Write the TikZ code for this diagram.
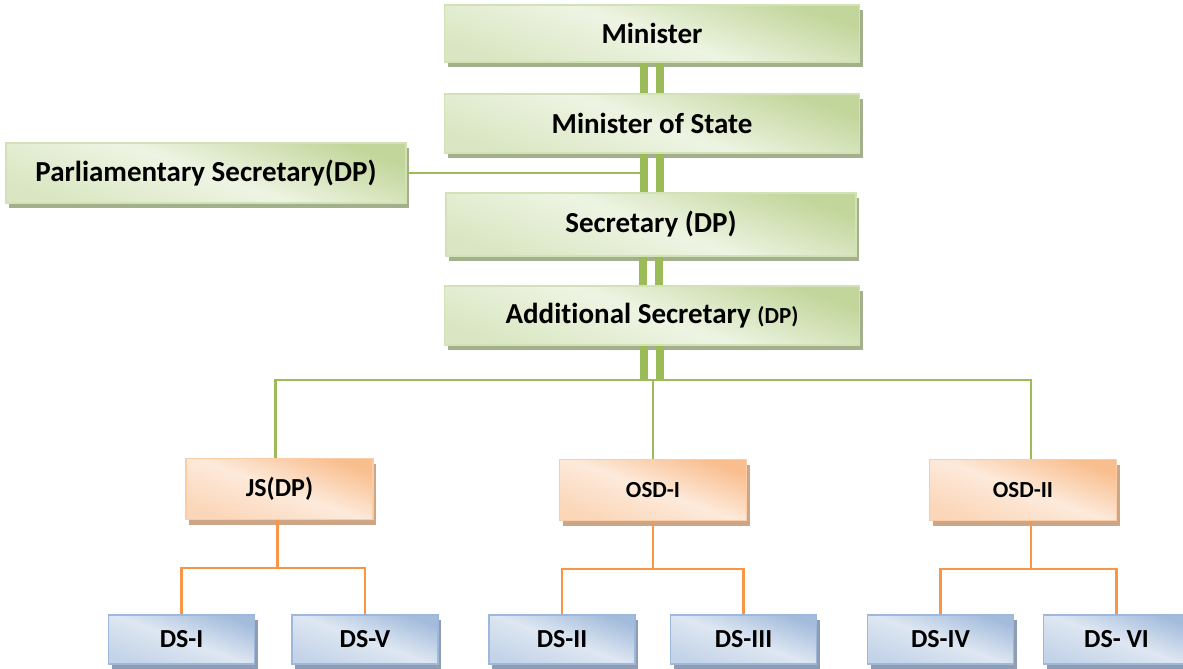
\documentclass[tikz,border=0pt]{standalone}
\usepackage{fontspec}
\setmainfont{Carlito}[Ligatures=NoCommon]
\usepackage{tikz}
\usetikzlibrary{positioning}
\usetikzlibrary{calc}
\usetikzlibrary{shadows}

\definecolor{gLight}{HTML}{EEF4E3}
\definecolor{gDark}{HTML}{C2D69B}
\definecolor{gEdge}{HTML}{D3E2B6}
\definecolor{gShade}{HTML}{A3B08C}
\definecolor{gBar}{HTML}{9BBB59}
\definecolor{oLight}{HTML}{FDEADB}
\definecolor{oDark}{HTML}{F9BE8E}
\definecolor{oEdge}{HTML}{FBCDA6}
\definecolor{oShade}{HTML}{CDA687}
\definecolor{oLine}{HTML}{F79646}
\definecolor{bLight}{HTML}{DEE7F2}
\definecolor{bDark}{HTML}{A4BCDC}
\definecolor{bEdge}{HTML}{9DB8DA}
\definecolor{bShade}{HTML}{8E9DB3}

\begin{document}
\begin{tikzpicture}[
    x=0.5pt, y=-0.5pt,  % one unit is one pixel of the chart, y going down
    font=\bfseries,
    ]
% -------------------------------------------------
\tikzset{
  base/.style={draw, line width=0.6pt, align=center, inner sep=0pt},
  gbox/.style={base, draw=gEdge, top color=gDark, bottom color=gDark!45!gLight, middle color=gLight,
    shading angle=-20, minimum width=207.5pt, minimum height=29.5pt,
    font=\fontsize{14.5}{17}\selectfont\bfseries,
    drop shadow={shadow xshift=1.5pt, shadow yshift=-2.5pt, fill=gShade, opacity=1}},
  obox/.style={base, draw=oEdge, top color=oDark, bottom color=oDark!45!oLight, middle color=oLight,
    shading angle=-20, minimum width=93.5pt, minimum height=30.5pt,
    font=\fontsize{11.5}{14}\selectfont\bfseries,
    drop shadow={shadow xshift=1.5pt, shadow yshift=-2.5pt, fill=oShade, opacity=1}},
  bbox/.style={base, draw=bEdge, top color=bDark, bottom color=bDark!45!bLight, middle color=bLight,
    shading angle=-20, minimum width=73pt, minimum height=24.5pt,
    font=\fontsize{13}{15}\selectfont\bfseries,
    drop shadow={shadow xshift=1.5pt, shadow yshift=-2.5pt, fill=bShade, opacity=1}},
  gbar/.style={draw=gBar, line width=4pt},
  gline/.style={draw=gBar, line width=1.1pt},
  oline/.style={draw=oLine, line width=1.1pt}
}
\useasboundingbox (0,0) rectangle (1183,669);

% green column
\node [gbox, minimum height=28.5pt] (min) at (652,33.5) {Minister};
\node [gbox] (mos) at (652,123.5) {Minister of State};
\node [gbox, minimum width=205pt, minimum height=31.5pt] (sec) at (651,224.5) {Secretary (DP)};
\node [gbox] (addsec) at (652,315.5) {Additional Secretary {\fontsize{11.5}{14}\selectfont(DP)}};
\node [gbox, minimum width=200pt, minimum height=30pt] (parl) at (206,173) {Parliamentary Secretary(DP)};

% second level
\node [obox, font=\fontsize{13}{15}\selectfont\bfseries] (jsdp) at (279.5,489) {JS(DP)};
\node [obox] (osda) at (653,490) {OSD-I};
\node [obox] (osdb) at (1023,490) {OSD-II};

% deputy secretaries
\node [bbox] (dsa) at (181.5,639.5) {DS-I};
\node [bbox] (dsb) at (365,639.5) {DS-V};
\node [bbox] (dsc) at (562,639.5) {DS-II};
\node [bbox] (dsd) at (743.5,639.5) {DS-III};
\node [bbox] (dse) at (940.5,639.5) {DS-IV};
\node [bbox] (dsf) at (1116.5,639.5) {DS- VI};

\coordinate (lbar) at ([xshift=-4.25pt]mos.south);
\coordinate (bus) at (652,380);

\path [gline] (parl.east) -- (parl.east -| lbar);
\path [gline] ([xshift=-2pt]jsdp.north) |- (bus) -| ([xshift=4pt]osdb.north);
\path [gline] (osda.north) -- (osda.north |- bus);

\foreach \a/\b in {min/mos, mos/sec, sec/addsec}
  \foreach \s in {-4.25pt, 4pt}
    \path [gbar] ([xshift=\s]\a.south) -- ([xshift=\s]\a.south |- \b.north);
\foreach \s in {-4.25pt, 4pt}
  \path [gbar] ([xshift=\s]addsec.south) -- ([xshift=\s]addsec.south |- bus);

\foreach \up/\l/\r/\s in {jsdp/dsa/dsb/-1pt, osda/dsc/dsd/0pt, osdb/dse/dsf/4pt} {
  \path [oline] ([xshift=\s]\up.south) -- ++(0,47.5) coordinate (fork) -| (\l.north);
  \path [oline] (fork) -| (\r.north);
}

\end{tikzpicture}
\end{document}
